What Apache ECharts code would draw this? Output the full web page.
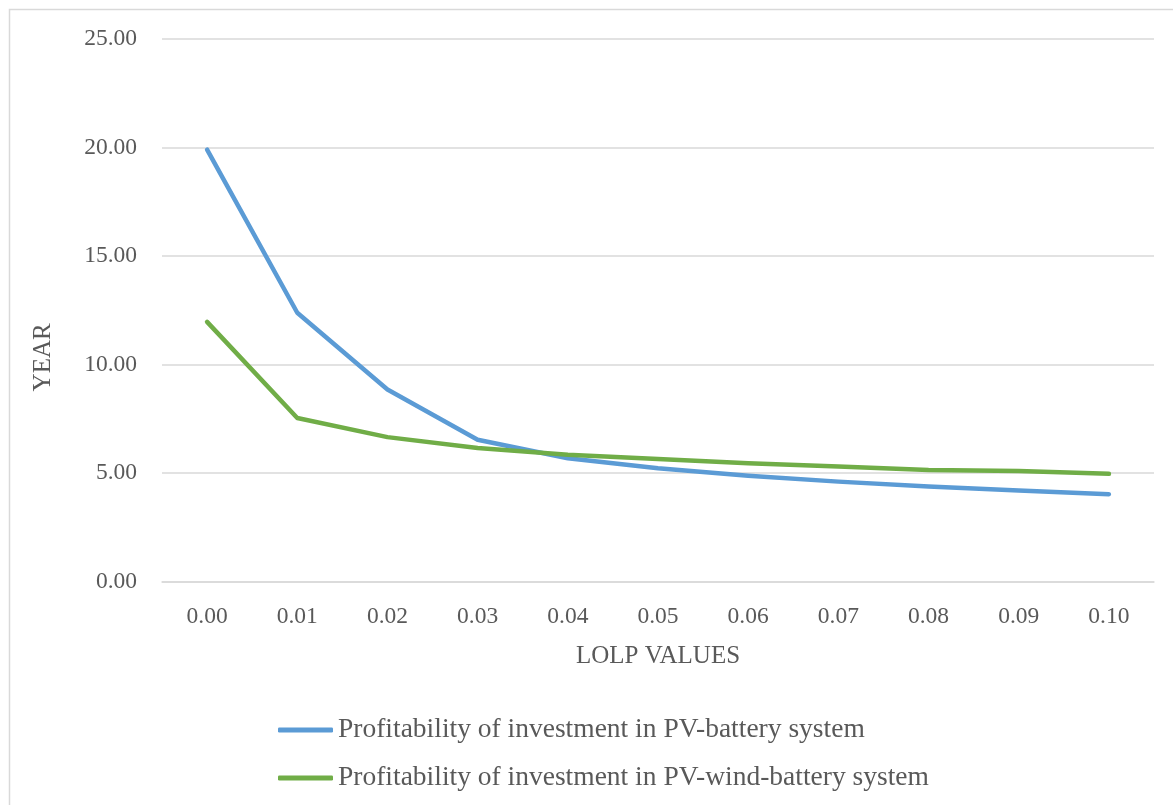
<!DOCTYPE html>
<html>
<head>
<meta charset="utf-8">
<script src="https://cdn.jsdelivr.net/npm/echarts@6/dist/echarts.min.js"></script>
<style>
html,body{margin:0;padding:0;background:#fff;}
#c{width:1173px;height:805px;}
</style>
</head>
<body>
<div id="c"></div>
<script>
const categories = ['0.00','0.01','0.02','0.03','0.04','0.05','0.06','0.07','0.08','0.09','0.10'];
const pvBattery = [19.9, 12.39, 8.85, 6.54, 5.69, 5.23, 4.88, 4.61, 4.38, 4.2, 4.03];
const pvWindBattery = [11.97, 7.54, 6.66, 6.16, 5.85, 5.65, 5.46, 5.31, 5.15, 5.1, 4.97];
const seriesNames = ['Profitability of investment in PV-battery system','Profitability of investment in PV-wind-battery system'];
const colors = ['#5B9BD5','#70AD47'];
const FONT = 'Liberation Serif';
const TXT = '#595959';

const chart = echarts.init(document.getElementById('c'));
chart.setOption({
  backgroundColor:'#ffffff',
  animation:false,
  graphic:[{
    type:'rect', silent:true,
    shape:{x:9.5,y:9.5,width:1300,height:1000},
    style:{fill:'none',stroke:'#D9D9D9',lineWidth:1.5}
  }],
  grid:{left:162,right:19,top:39,bottom:223.3,containLabel:false},
  legend:[
    {data:[seriesNames[0]],left:273,top:711,orient:'vertical',icon:'roundRect',itemWidth:55,itemHeight:5,
     textStyle:{fontFamily:FONT,fontSize:27.5,color:TXT}},
    {data:[seriesNames[1]],left:273,top:759,orient:'vertical',icon:'roundRect',itemWidth:55,itemHeight:5,
     textStyle:{fontFamily:FONT,fontSize:27.5,color:TXT}}
  ],
  xAxis:{
    type:'category',data:categories,boundaryGap:true,
    name:'LOLP VALUES',nameLocation:'middle',nameGap:62,
    nameTextStyle:{fontFamily:FONT,fontSize:25,color:TXT},
    axisLine:{show:true,lineStyle:{color:'#D9D9D9',width:1.5}},
    axisTick:{show:false},
    axisLabel:{fontFamily:FONT,fontSize:23.5,color:TXT,margin:23}
  },
  yAxis:{
    type:'value',min:0,max:25,interval:5,
    name:'YEAR',nameLocation:'middle',nameGap:106,
    nameTextStyle:{fontFamily:FONT,fontSize:25,color:TXT,padding:[0,94,0,0]},
    axisLine:{show:false},axisTick:{show:false},
    splitLine:{lineStyle:{color:'#D9D9D9',width:1.5}},
    axisLabel:{fontFamily:FONT,fontSize:23.5,color:TXT,margin:25,formatter:v=>v.toFixed(2)}
  },
  series:[
    {name:seriesNames[0],type:'line',data:pvBattery,symbol:'none',smooth:false,
     lineStyle:{color:colors[0],width:4.5,cap:'round',join:'round'},itemStyle:{color:colors[0]}},
    {name:seriesNames[1],type:'line',data:pvWindBattery,symbol:'none',smooth:false,
     lineStyle:{color:colors[1],width:4.5,cap:'round',join:'round'},itemStyle:{color:colors[1]}}
  ]
});
</script>
</body>
</html>
